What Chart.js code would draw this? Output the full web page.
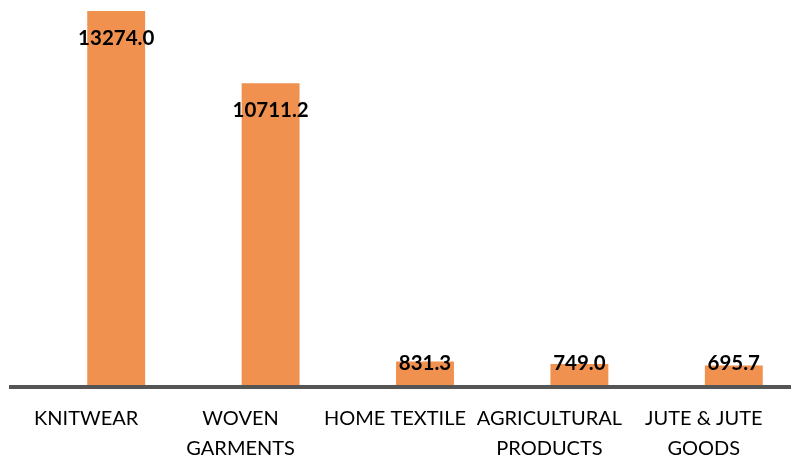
<!DOCTYPE html>
<html lang="en">
<head>
    <meta charset="UTF-8">
    <title>Exports by product</title>
    <script src="https://cdn.jsdelivr.net/npm/chart.js"></script>
    <style>
        html, body { margin: 0; padding: 0; background: #ffffff; overflow: hidden; }
        /* the category bands run past the right edge in the original, so the canvas is a bit wider than the window */
        #wrap { width: 830px; height: 456px; }
    </style>
</head>
<body>
    <div id="wrap"><canvas id="grafico"></canvas></div>

    <script>
        // Data
        const categories = [
            'KNITWEAR',
            ['WOVEN', 'GARMENTS'],
            'HOME TEXTILE',
            ['AGRICULTURAL', 'PRODUCTS'],
            ['JUTE & JUTE', 'GOODS']
        ];
        const exportValues = [13274.0, 10711.2, 831.3, 749.0, 695.7];

        // Axis line does not follow the category bands, so draw it by hand
        const axisLine = {
            id: 'axisLine',
            afterDatasetsDraw(chart) {
                const ctx = chart.ctx;
                const y = chart.scales.y.getPixelForValue(0);
                ctx.save();
                ctx.fillStyle = '#555555';
                ctx.fillRect(9, y, 782, 4);
                ctx.restore();
            }
        };

        // Value labels near the top, inside the bar
        const valueLabels = {
            id: 'valueLabels',
            afterDatasetsDraw(chart) {
                const ctx = chart.ctx;
                const meta = chart.getDatasetMeta(0);
                const base = chart.scales.y.getPixelForValue(0);
                ctx.save();
                ctx.font = 'bold 20.5px Lato, "DejaVu Sans", sans-serif';
                ctx.fillStyle = '#000000';
                ctx.textAlign = 'center';
                ctx.textBaseline = 'middle';
                meta.data.forEach((bar, i) => {
                    const y = Math.min(bar.y + 27, base - 22);
                    ctx.fillText(exportValues[i].toFixed(1), bar.x, y);
                });
                ctx.restore();
            }
        };

        const ctx = document.getElementById('grafico').getContext('2d');
        const chart = new Chart(ctx, {
            type: 'bar',
            data: {
                labels: categories,
                datasets: [{
                    data: exportValues,
                    backgroundColor: '#F0914F',
                    barPercentage: 0.75,
                    categoryPercentage: 0.5
                }]
            },
            options: {
                responsive: true,
                maintainAspectRatio: false,
                animation: false,
                layout: { padding: { top: 11, left: 39, right: 19, bottom: 0 } },
                plugins: {
                    legend: { display: false },
                    tooltip: { enabled: false }
                },
                scales: {
                    x: {
                        grid: { display: false },
                        border: { display: false },
                        afterFit(scale) { scale.height = 71; },
                        ticks: {
                            color: '#000000',
                            padding: 11,
                            labelOffset: -30,
                            maxRotation: 0,
                            autoSkip: false,
                            font: { family: 'Lato, "DejaVu Sans", sans-serif', size: 20, lineHeight: 1.5 }
                        }
                    },
                    y: {
                        display: false,
                        min: 0,
                        max: 13274
                    }
                }
            },
            plugins: [axisLine, valueLabels]
        });
    </script>
</body>
</html>
